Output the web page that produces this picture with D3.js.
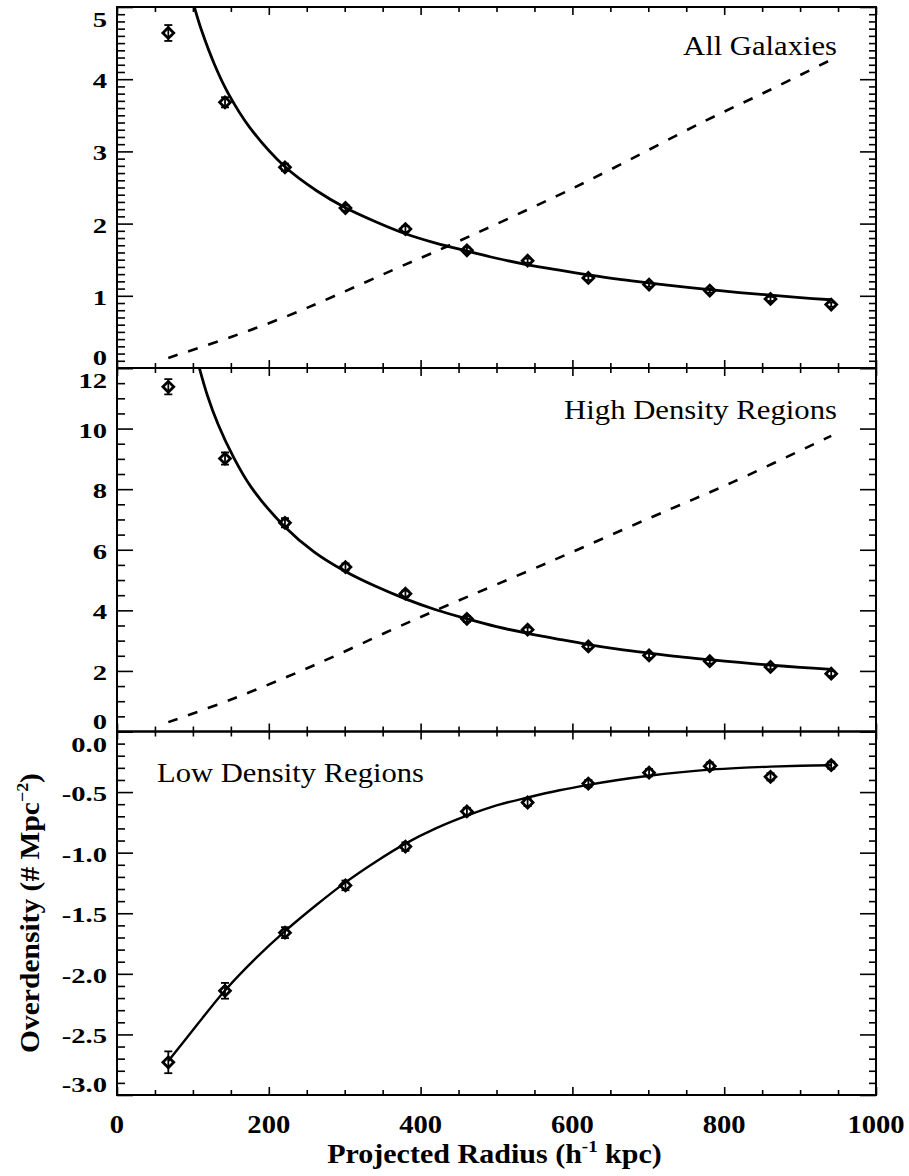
<!DOCTYPE html>
<html>
<head>
<meta charset="utf-8">
<script src="https://cdn.jsdelivr.net/npm/d3@7"></script>
<style>
  html, body { margin: 0; background: #fff; }
  svg { display: block; }
</style>
</head>
<body>
<svg id="chart" width="909" height="1176"></svg>
<script>
// ---- data -------------------------------------------------------------
// projected radius of each bin (h^-1 kpc)
const radius = [67.6, 142.3, 221.3, 301, 380, 461, 541, 621, 701, 781, 861, 941];

// measured overdensity, all galaxies
const allVals = [4.64, 3.68, 2.78, 2.216, 1.925, 1.63, 1.487, 1.247, 1.155, 1.072, 0.957, 0.878];
const allErr  = [0.11, 0.07, 0.05, 0.04, 0.04, 0.04, 0.03, 0.03, 0.03, 0.03, 0.03, 0.03];

// measured overdensity, high density regions
const highVals = [11.38, 9.01, 6.89, 5.43, 4.55, 3.72, 3.36, 2.81, 2.51, 2.32, 2.13, 1.91];
const highErr  = [0.25, 0.2, 0.15, 0.12, 0.1, 0.1, 0.08, 0.08, 0.08, 0.08, 0.08, 0.08];

// measured overdensity, low density regions
const lowVals = [-2.73, -2.14, -1.66, -1.27, -0.95, -0.66, -0.586, -0.43, -0.34, -0.286, -0.374, -0.278];
const lowErr  = [0.09, 0.065, 0.045, 0.04, 0.035, 0.03, 0.03, 0.03, 0.03, 0.03, 0.03, 0.03];

// fitted profiles (solid curves)
const allFitR = [101.9, 111.6, 129, 146.7, 175, 221, 263, 301, 340, 380, 420, 461, 500, 541, 583, 621, 660, 700, 740, 781, 820, 861, 900, 941];
const allFitV = [5.0, 4.67, 4.19, 3.80, 3.33, 2.79, 2.455, 2.22, 2.03, 1.86, 1.73, 1.62, 1.52, 1.43, 1.355, 1.29, 1.23, 1.18, 1.13, 1.085, 1.045, 1.01, 0.975, 0.945];

const highFitR = [108.5, 119, 133, 153, 177, 221, 260, 301, 340, 380, 420, 461, 500, 541, 583, 621, 660, 700, 740, 781, 820, 861, 900, 941];
const highFitV = [12.0, 11.1, 10.15, 9.08, 8.06, 6.76, 5.92, 5.28, 4.8, 4.38, 4.02, 3.72, 3.46, 3.24, 3.04, 2.87, 2.72, 2.59, 2.47, 2.37, 2.28, 2.19, 2.12, 2.05];

const lowFitR = [67.6, 105, 142, 184, 221, 263, 301, 342, 380, 420, 461, 500, 541, 583, 621, 660, 701, 741, 781, 821, 861, 901, 941];
const lowFitV = [-2.72, -2.425, -2.14, -1.865, -1.65, -1.43, -1.245, -1.07, -0.925, -0.80, -0.695, -0.61, -0.545, -0.485, -0.44, -0.40, -0.365, -0.337, -0.315, -0.30, -0.29, -0.283, -0.278];

// comparison profiles (dashed curves)
const allDashR = [67.6, 153, 223.5, 285, 364, 434, 579, 649.5, 772.5, 860, 937];
const allDashV = [0.14, 0.44, 0.716, 0.99, 1.36, 1.68, 2.38, 2.745, 3.41, 3.85, 4.25];

const highDashR = [67.6, 153, 259, 364, 434, 570, 702, 812, 941];
const highDashV = [0.31, 1.08, 2.18, 3.38, 4.15, 5.6, 7.05, 8.24, 9.76];

// axis ticks and labels
const xTicks = [0, 200, 400, 600, 800, 1000];
const allTicks = [0, 1, 2, 3, 4, 5];
const allTickLabels = ["0", "1", "2", "3", "4", "5"];
const highTicks = [0, 2, 4, 6, 8, 10, 12];
const highTickLabels = ["0", "2", "4", "6", "8", "10", "12"];
const lowTicks = [0, -0.5, -1, -1.5, -2, -2.5, -3];
const lowTickLabels = ["0.0", "-0.5", "-1.0", "-1.5", "-2.0", "-2.5", "-3.0"];

// ---- layout -----------------------------------------------------------
const FONT = "'Liberation Serif', 'Times New Roman', Times, serif";
const plotLeft = 117, plotRight = 876;

const x = d3.scaleLinear().domain([0, 1000]).range([plotLeft, plotRight]);
const xMinor = d3.range(0, 1001, 50).filter(v => v % 200 !== 0);

const panels = [
  { id: "all", top: 7, bottom: 368, domain: [0, 5], ticks: allTicks, tickLabels: allTickLabels, minorStep: 0.1,
    vals: allVals, errs: allErr, fitR: allFitR, fitV: allFitV, dashR: allDashR, dashV: allDashV,
    label: "All Galaxies", labelX: 837, labelY: 55, labelAnchor: "end", labelWidth: 154 },
  { id: "high", top: 368, bottom: 731.5, domain: [0, 12], ticks: highTicks, tickLabels: highTickLabels, minorStep: 0.5,
    vals: highVals, errs: highErr, fitR: highFitR, fitV: highFitV, dashR: highDashR, dashV: highDashV,
    label: "High Density Regions", labelX: 837, labelY: 419, labelAnchor: "end", labelWidth: 273 },
  { id: "low", top: 731.5, bottom: 1095, domain: [-3, 0], ticks: lowTicks, tickLabels: lowTickLabels, minorStep: 0.1,
    vals: lowVals, errs: lowErr, fitR: lowFitR, fitV: lowFitV, dashR: null, dashV: null,
    label: "Low Density Regions", labelX: 157, labelY: 782, labelAnchor: "start", labelWidth: 267 }
];

const svg = d3.select("#chart");
svg.append("rect").attr("width", 909).attr("height", 1176).attr("fill", "#fff");
const defs = svg.append("defs");

// horizontally stretch a text element so that it spans the given width
function fitWidth(sel, target) {
  const w = sel.node().getBBox().width;
  if (w > 0) sel.attr("transform", sel.attr("transform") + ` scale(${target / w},1)`);
}

const diamond = s => `M0,${-s}L${s},0L0,${s}L${-s},0Z`;

panels.forEach(p => {
  const y = d3.scaleLinear().domain(p.domain).range([p.bottom, p.top]);
  const g = svg.append("g").attr("class", "panel-" + p.id);

  defs.append("clipPath").attr("id", "clip-" + p.id)
    .append("rect").attr("x", plotLeft).attr("y", p.top)
    .attr("width", plotRight - plotLeft).attr("height", p.bottom - p.top);

  // minor tick values on the y axis
  const [lo, hi] = p.domain;
  const nMinor = Math.round((hi - lo) / p.minorStep);
  const yMinor = d3.range(0, nMinor + 1).map(i => +(lo + i * p.minorStep).toFixed(3))
    .filter(v => !p.ticks.some(t => Math.abs(t - v) < 1e-6));

  const tickStyle = sel => {
    sel.select(".domain").remove();
    sel.selectAll("line").attr("stroke", "#000").attr("stroke-width", 1.6);
    sel.selectAll("text").remove();
  };

  // left / right axes (ticks point inward)
  g.append("g").attr("transform", `translate(${plotLeft},0)`)
    .call(d3.axisLeft(y).tickValues(p.ticks).tickSize(-16).tickSizeOuter(0).tickFormat("")).call(tickStyle);
  g.append("g").attr("transform", `translate(${plotLeft},0)`)
    .call(d3.axisLeft(y).tickValues(yMinor).tickSize(-8).tickSizeOuter(0).tickFormat("")).call(tickStyle);
  g.append("g").attr("transform", `translate(${plotRight},0)`)
    .call(d3.axisRight(y).tickValues(p.ticks).tickSize(-16).tickSizeOuter(0).tickFormat("")).call(tickStyle);
  g.append("g").attr("transform", `translate(${plotRight},0)`)
    .call(d3.axisRight(y).tickValues(yMinor).tickSize(-7).tickSizeOuter(0).tickFormat("")).call(tickStyle);

  // top / bottom axes
  g.append("g").attr("transform", `translate(0,${p.bottom})`)
    .call(d3.axisBottom(x).tickValues(xTicks).tickSize(-8).tickSizeOuter(0).tickFormat("")).call(tickStyle);
  g.append("g").attr("transform", `translate(0,${p.bottom})`)
    .call(d3.axisBottom(x).tickValues(xMinor).tickSize(-5).tickSizeOuter(0).tickFormat("")).call(tickStyle);
  g.append("g").attr("transform", `translate(0,${p.top})`)
    .call(d3.axisTop(x).tickValues(xTicks).tickSize(-8).tickSizeOuter(0).tickFormat("")).call(tickStyle);
  g.append("g").attr("transform", `translate(0,${p.top})`)
    .call(d3.axisTop(x).tickValues(xMinor).tickSize(-5).tickSizeOuter(0).tickFormat("")).call(tickStyle);

  // y tick labels; the ones at the panel edges are kept inside the panel
  p.ticks.forEach((t, i) => {
    const ty = y(t);
    let base = ty + 9;
    if (Math.abs(ty - p.top) < 1) base = ty + 20;
    else if (Math.abs(ty - p.bottom) < 1) base = ty - 3;
    const txt = g.append("text")
      .attr("transform", `translate(107,${base})`)
      .attr("text-anchor", "end")
      .attr("font-family", FONT).attr("font-weight", "bold").attr("font-size", 22)
      .attr("fill", "#000")
      .text(p.tickLabels[i]);
    txt.attr("transform", txt.attr("transform") + " scale(1.3,1)");
  });

  // frame
  g.append("rect").attr("x", plotLeft).attr("y", p.top)
    .attr("width", plotRight - plotLeft).attr("height", p.bottom - p.top)
    .attr("fill", "none").attr("stroke", "#000").attr("stroke-width", 2);

  const plot = g.append("g").attr("clip-path", `url(#clip-${p.id})`);
  const line = d3.line().x(d => x(d[0])).y(d => y(d[1])).curve(d3.curveCatmullRom.alpha(0.5));

  // dashed comparison curve
  if (p.dashR) {
    plot.append("path")
      .attr("d", line(d3.zip(p.dashR, p.dashV)))
      .attr("fill", "none").attr("stroke", "#000").attr("stroke-width", 2.6)
      .attr("stroke-dasharray", "10,11");
  }

  // solid fitted curve
  plot.append("path")
    .attr("d", line(d3.zip(p.fitR, p.fitV)))
    .attr("fill", "none").attr("stroke", "#000")
    .attr("stroke-width", p.id === "low" ? 2.4 : 2.8);

  // error bars
  const pts = radius.map((r, i) => ({ r, v: p.vals[i], e: p.errs[i] }));
  const eb = plot.append("g").attr("stroke", "#000").attr("stroke-width", 1.8);
  pts.forEach(d => {
    eb.append("line").attr("x1", x(d.r)).attr("x2", x(d.r))
      .attr("y1", y(d.v - d.e)).attr("y2", y(d.v + d.e));
    [d.v - d.e, d.v + d.e].forEach(v => {
      eb.append("line").attr("x1", x(d.r) - 4).attr("x2", x(d.r) + 4)
        .attr("y1", y(v)).attr("y2", y(v));
    });
  });

  // diamond markers
  plot.append("g").selectAll("path").data(pts).join("path")
    .attr("transform", d => `translate(${x(d.r)},${y(d.v)})`)
    .attr("d", diamond(5.4))
    .attr("fill", "none").attr("stroke", "#000").attr("stroke-width", 2.8);

  // panel label
  const lab = g.append("text")
    .attr("transform", `translate(${p.labelX},${p.labelY})`)
    .attr("text-anchor", p.labelAnchor)
    .attr("font-family", FONT).attr("font-size", 27).attr("fill", "#000")
    .text(p.label);
  fitWidth(lab, p.labelWidth);
});

// x tick labels under the bottom panel
xTicks.forEach(t => {
  const txt = svg.append("text")
    .attr("transform", `translate(${x(t)},1133)`)
    .attr("text-anchor", "middle")
    .attr("font-family", FONT).attr("font-weight", "bold").attr("font-size", 26)
    .attr("fill", "#000")
    .text(t);
  txt.attr("transform", txt.attr("transform") + " scale(1.1,1)");
});

// x axis title
const xTitle = svg.append("text")
  .attr("transform", "translate(494.5,1163)")
  .attr("text-anchor", "middle")
  .attr("font-family", FONT).attr("font-weight", "bold").attr("font-size", 27)
  .attr("fill", "#000");
xTitle.append("tspan").text("Projected Radius (h");
xTitle.append("tspan").attr("font-size", 17).attr("dy", -11).text("-1");
xTitle.append("tspan").attr("dy", 11).text(" kpc)");
fitWidth(xTitle, 335);

// y axis title
const yTitle = svg.append("text")
  .attr("transform", "translate(39,913) rotate(-90)")
  .attr("text-anchor", "middle")
  .attr("font-family", FONT).attr("font-weight", "bold").attr("font-size", 28)
  .attr("fill", "#000");
yTitle.append("tspan").text("Overdensity (# Mpc");
yTitle.append("tspan").attr("font-size", 17).attr("dy", -11).text("\u22122");
yTitle.append("tspan").attr("dy", 11).text(")");
fitWidth(yTitle, 280);
</script>
</body>
</html>
